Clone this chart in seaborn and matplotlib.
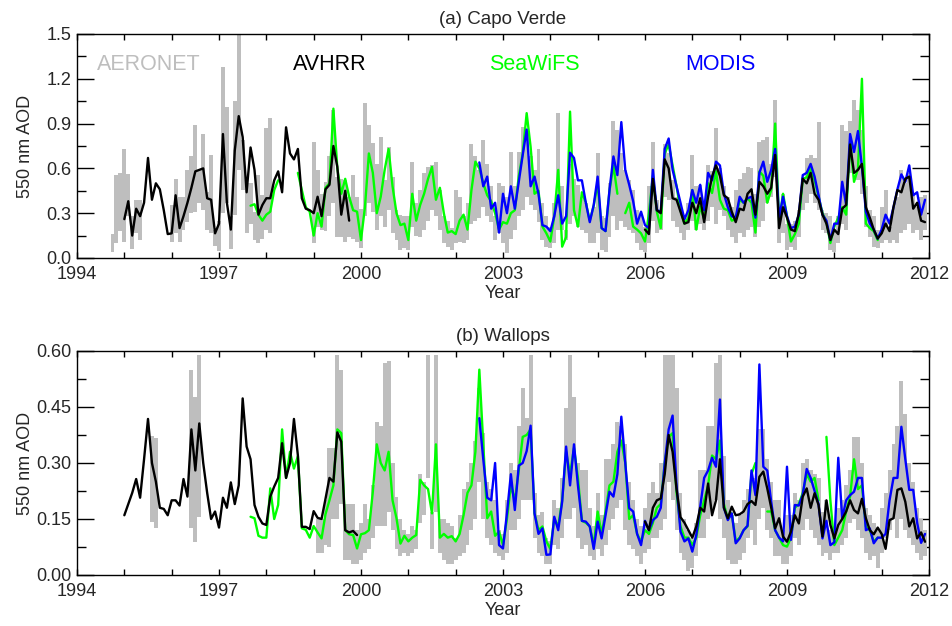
import numpy as np
import pandas as pd
import matplotlib
matplotlib.use('Agg')
import matplotlib.pyplot as plt
import seaborn as sns
from matplotlib.ticker import MultipleLocator, FormatStrFormatter

nan = np.nan

# ---- (a) Capo Verde, monthly 550 nm AOD ----
# AERONET monthly range (low / high), first month Oct 1994
cv_aeronet_start = (1994, 10)
cv_aeronet_lo = ([0.04, 0.10, 0.18, 0.11, 0.28, 0.06, 0.17, 0.12] + [nan] * 7 +
                 [0.11, 0.165, 0.11, 0.19, 0.24, 0.30, 0.31, 0.37, 0.32, 0.19, 0.165, 0.08, 0.05,
                  0.30, 0.37, 0.06, 0.29, 0.59, 0.455, 0.165, 0.23, 0.12, 0.10, 0.13, 0.19, 0.165] + [nan] * 10 +
                 [0.10, 0.21, 0.19, 0.18, 0.28, 0.37, 0.14, 0.14, 0.11, 0.14, 0.13, 0.11,
                  0.065, 0.28, 0.37, 0.31, 0.19, 0.28, 0.21, 0.32, 0.165, 0.12, 0.054, 0.065,
                  0.054, 0.21, 0.15, 0.14, 0.19, 0.25, 0.32, 0.28, 0.19, 0.10, 0.076, 0.054,
                  0.10, 0.11, 0.10, 0.12, 0.23, 0.25, 0.27, 0.34, 0.28, 0.24, 0.12, 0.165,
                  0.10, 0.03, 0.13, 0.19, 0.28, 0.32, 0.41, 0.355, 0.32, 0.24, 0.12, 0.076,
                  0.065, 0.10, 0.19, 0.19, 0.12, 0.23, 0.28, 0.21, 0.19, 0.165, 0.10, 0.10,
                  0.165, 0.054, 0.043, 0.14, 0.28, 0.19, 0.25, 0.21, 0.19, 0.165, 0.10, 0.054,
                  0.043, 0.10, 0.25, 0.165, 0.19, 0.41, 0.39, 0.25, 0.21, 0.165, 0.12, 0.19,
                  0.25, 0.19, 0.23, 0.19, 0.25, 0.34, 0.23, 0.32, 0.28, 0.19, 0.14, 0.10,
                  0.165, 0.14, 0.19, 0.21, 0.14, 0.21, 0.25, 0.37, 0.41, 0.545, 0.10, 0.165,
                  0.054, 0.076, 0.054, 0.14, 0.32, 0.37, 0.43, 0.37, 0.32, 0.19, 0.165, 0.054,
                  0.043, 0.10, 0.23, 0.19, 0.57, 0.59, 0.52, 0.43, 0.21, 0.14, 0.076, 0.065,
                  0.10, 0.12, 0.10, 0.12, 0.10, 0.165, 0.19, 0.23, 0.165, 0.19, 0.12, 0.19])
cv_aeronet_hi = ([0.16, 0.555, 0.57, 0.73, 0.56, 0.28, 0.39, 0.39] + [nan] * 7 +
                 [0.355, 0.53, 0.41, 0.41, 0.59, 0.68, 0.89, 0.59, 0.83, 0.44, 0.69, 0.19, 0.25,
                  1.28, 1.01, 0.28, 1.05, 1.49, 0.79, 0.50, 0.50, 0.31, 0.555, 0.42, 0.87, 0.94] + [nan] * 10 +
                 [0.78, 0.59, 0.43, 0.51, 0.68, 0.99, 0.545, 0.53, 0.52, 0.41, 0.555, 0.41,
                  0.33, 1.04, 0.89, 0.77, 0.63, 0.81, 0.52, 0.745, 0.545, 0.32, 0.29, 0.28,
                  0.28, 0.645, 0.37, 0.455, 0.57, 0.61, 0.62, 0.645, 0.455, 0.28, 0.25, 0.20,
                  0.455, 0.41, 0.28, 0.37, 0.76, 0.68, 0.59, 0.79, 0.63, 0.48, 0.28, 0.50,
                  0.48, 0.41, 0.71, 0.48, 0.71, 0.88, 0.83, 0.68, 0.59, 0.73, 0.37, 0.28,
                  0.21, 0.37, 0.97, 0.48, 0.19, 0.63, 0.53, 0.49, 0.41, 0.37, 0.28, 0.34,
                  0.70, 0.28, 0.27, 0.50, 0.92, 0.86, 0.70, 0.59, 0.52, 0.455, 0.32, 0.28,
                  0.21, 0.48, 0.78, 0.39, 0.32, 0.76, 0.70, 0.52, 0.41, 0.355, 0.29, 0.37,
                  0.69, 0.48, 0.49, 0.34, 0.62, 0.58, 0.87, 0.60, 0.48, 0.41, 0.34, 0.455,
                  0.53, 0.57, 0.61, 0.60, 0.43, 0.78, 0.79, 0.81, 0.63, 1.06, 0.34, 0.43,
                  0.23, 0.23, 0.25, 0.32, 0.545, 0.67, 0.69, 0.67, 0.91, 0.32, 0.30, 0.28,
                  0.176, 0.28, 0.89, 0.85, 0.92, 1.06, 0.99, 0.86, 0.48, 0.32, 0.28, 0.19,
                  0.34, 0.455, 0.21, 0.34, 0.41, 0.59, 0.50, 0.57, 0.43, 0.34, 0.41, 0.42])

cv_avhrr_start = (1995, 1)
cv_avhrr = ([0.26, 0.38, 0.15, 0.33, 0.28, 0.37, 0.67, 0.39, 0.50, 0.46, 0.32, 0.16,
             0.165, 0.42, 0.20, 0.28, 0.37, 0.47, 0.58, 0.59, 0.60, 0.40, 0.39, 0.165,
             0.23, 0.83, 0.37, 0.19, 0.72, 0.95, 0.81, 0.44, 0.74, 0.59, 0.29, 0.355,
             0.40, 0.40, 0.52, 0.58, 0.44, 0.875, 0.70, 0.66, 0.73, 0.40, 0.33, 0.32,
             0.30, 0.41, 0.28, 0.46, 0.49, 0.75, 0.61, 0.29, 0.45, 0.25] + [nan] * 74 +
            [0.19, 0.16, 0.53, 0.32, 0.30, 0.66, 0.60, 0.40, 0.39, 0.31, 0.23, 0.24,
             0.37, 0.30, 0.40, 0.24, 0.41, 0.545, 0.62, 0.55, 0.42, 0.40, 0.31, 0.24,
             0.33, 0.32, 0.43, 0.46, 0.29, 0.51, 0.48, 0.43, 0.47, 0.69, 0.20, 0.34,
             0.27, 0.19, 0.18, 0.30, 0.53, 0.50, 0.57, 0.43, 0.39, 0.29, 0.23, 0.12,
             0.19, 0.16, 0.33, 0.355, 0.76, 0.57, 0.59, 0.63, 0.34, 0.27, 0.19, 0.13,
             0.165, 0.23, 0.18, 0.34, 0.455, 0.44, 0.53, 0.545, 0.33, 0.37, 0.25, 0.24])

cv_seawifs_start = (1997, 9)
cv_seawifs = [0.35, 0.36, 0.29, 0.25, 0.29, 0.31, 0.455, 0.52, nan, nan,
              nan, nan, 0.57, 0.455, 0.34, 0.31, 0.15, 0.30, 0.21, 0.47,
              0.50, 1.0, 0.60, 0.43, 0.53, 0.41, 0.32, 0.31, 0.12, 0.34,
              0.70, 0.57, 0.30, 0.41, 0.59, 0.73, 0.48, 0.30, 0.22, 0.23,
              0.12, 0.43, 0.25, 0.355, 0.43, 0.53, 0.61, 0.39, 0.47, 0.30,
              0.17, 0.18, 0.16, 0.25, 0.29, 0.19, 0.455, 0.645, 0.60, 0.50,
              0.42, 0.38, 0.30, 0.19, 0.24, 0.23, 0.30, 0.32, 0.545, 0.70,
              0.97, 0.745, 0.43, 0.45, 0.21, 0.165, 0.11, 0.28, 0.59, 0.076,
              0.14, 0.98, 0.32, 0.21, 0.44, 0.37, 0.25, 0.35, 0.50, 0.20,
              0.18, 0.45, 0.62, 0.43, nan, 0.30, 0.37, 0.21, 0.19, 0.165,
              0.11, 0.30, 0.55, 0.31, 0.20, 0.70, 0.76, 0.62, 0.48, 0.32,
              0.23, 0.27, 0.455, 0.19, 0.345, 0.26, 0.50, 0.435, 0.58, 0.39,
              0.33, 0.32, 0.25, 0.26, 0.39, 0.37, 0.40, 0.37, 0.17, 0.58,
              0.55, 0.37, 0.455, 0.90, 0.25, 0.43, 0.28, 0.11, 0.16, 0.23,
              0.53, 0.54, 0.60, 0.52, 0.41, 0.30, 0.24, 0.10, 0.21, 0.27,
              0.34, 0.29, 0.78, 0.51, 0.60, 1.20, 0.23, 0.20, 0.18, 0.12]

cv_modis_start = (2002, 7)
cv_modis = [0.64, 0.48, 0.545, 0.33, 0.37, 0.17,
            0.43, 0.30, 0.48, 0.33, 0.51, 0.69, 0.86, 0.48, 0.545, 0.43, 0.22, 0.21,
            0.18, 0.28, 0.42, 0.23, 0.28, 0.705, 0.67, 0.52, 0.52, 0.37, 0.24, 0.355,
            0.545, 0.20, 0.18, 0.455, 0.68, 0.555, 0.91, 0.59, 0.49, 0.38, 0.23, 0.31,
            0.22, 0.20, 0.59, 0.32, 0.31, 0.73, 0.80, 0.59, 0.48, 0.37, 0.26, 0.32,
            0.455, 0.37, 0.49, 0.32, 0.57, 0.52, 0.645, 0.62, 0.43, 0.34, 0.28, 0.27,
            0.41, 0.37, 0.40, 0.41, 0.27, 0.57, 0.645, 0.51, 0.59, 0.73, 0.27, 0.41,
            0.28, 0.20, 0.21, 0.29, 0.555, 0.57, 0.63, 0.545, 0.42, 0.29, 0.25, 0.12,
            0.23, 0.23, 0.51, 0.355, 0.83, 0.71, 0.85, 0.61, 0.31, 0.23, 0.19, 0.13,
            0.19, 0.29, 0.23, 0.34, 0.46, 0.56, 0.51, 0.62, 0.42, 0.44, 0.29, 0.39]

# ---- (b) Wallops ----
wa_aeronet_start = (1995, 8)
wa_aeronet_lo = ([0.141, 0.125] + [nan] * 8 + [0.125, 0.089, 0.156] + [nan] * 29 +
                 [0.06, 0.06, 0.08, 0.075, 0.15, 0.15, 0.19, 0.04, 0.04, 0.03, 0.03, 0.04,
                  0.06, 0.07, 0.10, 0.13, 0.13, 0.13, 0.17, 0.12, 0.07, 0.05, 0.06, 0.05,
                  0.06, 0.07, 0.14, 0.16, 0.26, 0.07, 0.17, 0.06, 0.04, 0.03, 0.03, 0.04,
                  0.05, 0.06, 0.08, 0.12, 0.15, 0.25, 0.15, 0.10, 0.08, 0.06, 0.05, 0.04,
                  0.06, 0.12, 0.12, 0.15, 0.20, 0.20, 0.20, 0.10, 0.06, 0.05, 0.03, 0.03,
                  0.08, 0.07, 0.10, 0.15, 0.15, 0.18, 0.10, 0.07, 0.08, 0.05, 0.04, 0.07,
                  0.05, 0.08, 0.12, 0.15, 0.18, 0.20, 0.12, 0.08, 0.07, 0.05, 0.03, 0.06,
                  0.07, 0.10, 0.10, 0.12, 0.15, 0.25, 0.20, 0.12, 0.06, 0.04, 0.01, 0.02,
                  0.05, 0.10, 0.10, 0.15, 0.18, 0.20, 0.15, 0.10, 0.04, 0.03, 0.03, 0.04,
                  0.06, 0.10, 0.12, 0.08, 0.15, 0.18, 0.12, 0.10, 0.05, 0.05, 0.03, 0.03,
                  0.05, 0.10, 0.08, 0.12, 0.15, 0.12, 0.10, 0.08, 0.05, 0.06, 0.04, 0.06,
                  0.06, 0.08, 0.10, 0.14, 0.15, 0.12, 0.10, 0.06, 0.04, 0.05, 0.02, 0.06,
                  0.10, 0.12, 0.15, 0.10, 0.15, 0.12, 0.10, 0.08, 0.06, 0.04, 0.05])
wa_aeronet_hi = ([0.373, 0.368] + [nan] * 8 + [0.549, 0.478, 0.589] + [nan] * 29 +
                 [0.15, 0.15, 0.20, 0.34, 0.34, 0.589, 0.55, 0.19, 0.19, 0.19, 0.12, 0.14,
                  0.19, 0.15, 0.24, 0.41, 0.40, 0.567, 0.573, 0.30, 0.21, 0.15, 0.12, 0.11,
                  0.13, 0.12, 0.27, 0.25, 0.589, 0.17, 0.589, 0.15, 0.15, 0.14, 0.13, 0.10,
                  0.16, 0.23, 0.25, 0.30, 0.36, 0.50, 0.38, 0.25, 0.23, 0.20, 0.12, 0.11,
                  0.20, 0.30, 0.28, 0.40, 0.50, 0.42, 0.589, 0.22, 0.16, 0.17, 0.10, 0.09,
                  0.20, 0.18, 0.26, 0.448, 0.589, 0.478, 0.30, 0.28, 0.28, 0.18, 0.13, 0.22,
                  0.16, 0.31, 0.31, 0.35, 0.41, 0.40, 0.35, 0.25, 0.20, 0.15, 0.13, 0.18,
                  0.22, 0.25, 0.22, 0.30, 0.589, 0.589, 0.589, 0.50, 0.22, 0.15, 0.12, 0.10,
                  0.14, 0.28, 0.28, 0.40, 0.40, 0.567, 0.589, 0.32, 0.20, 0.16, 0.14, 0.16,
                  0.20, 0.23, 0.25, 0.26, 0.39, 0.39, 0.31, 0.25, 0.20, 0.20, 0.12, 0.16,
                  0.16, 0.22, 0.20, 0.30, 0.31, 0.28, 0.27, 0.26, 0.17, 0.20, 0.12, 0.13,
                  0.18, 0.20, 0.24, 0.28, 0.37, 0.37, 0.30, 0.18, 0.16, 0.14, 0.12, 0.18,
                  0.22, 0.28, 0.35, 0.40, 0.52, 0.43, 0.30, 0.25, 0.18, 0.15, 0.12])

wa_avhrr_start = (1995, 1)
wa_avhrr = ([0.16, 0.19, 0.22, 0.257, 0.207, 0.31, 0.418, 0.30, 0.25, 0.18, 0.177, 0.16,
             0.20, 0.20, 0.186, 0.257, 0.21, 0.39, 0.28, 0.406, 0.30, 0.22, 0.15, 0.17,
             0.127, 0.207, 0.18, 0.248, 0.19, 0.24, 0.473, 0.344, 0.31, 0.1875, 0.156, 0.138,
             0.134, 0.21, 0.237, 0.26, 0.353, 0.26, 0.30, 0.418, 0.32, 0.129, 0.129, 0.123,
             0.171, 0.153, 0.15, 0.204, 0.26, 0.25, 0.382, 0.357, 0.12, 0.114, 0.118, 0.107] + [nan] * 72 +
            [0.143, 0.12, 0.18, 0.20, 0.205, 0.27, 0.375, 0.33, 0.23, 0.155, 0.14, 0.12,
             0.10, 0.13, 0.18, 0.17, 0.245, 0.16, 0.20, 0.31, 0.18, 0.152, 0.183, 0.16,
             0.1625, 0.17, 0.19, 0.198, 0.1875, 0.263, 0.277, 0.232, 0.18, 0.125, 0.152, 0.103,
             0.089, 0.116, 0.16, 0.138, 0.21, 0.232, 0.18, 0.219, 0.1875, 0.103, 0.20, 0.134,
             0.098, 0.134, 0.15, 0.17, 0.20, 0.174, 0.165, 0.204, 0.152, 0.12, 0.109, 0.127,
             0.11, 0.07, 0.147, 0.152, 0.228, 0.232, 0.196, 0.13, 0.152, 0.098, 0.114, 0.089])

wa_seawifs_start = (1997, 9)
wa_seawifs = [0.156, 0.152, 0.105, 0.10, 0.10, 0.232, 0.15, 0.1875, 0.39, 0.26,
              0.33, 0.285, 0.318, 0.125, 0.121, 0.10, 0.131, 0.114, 0.098, 0.163,
              0.20, 0.24, 0.39, 0.38, 0.12, 0.109, 0.107, 0.071, 0.109, 0.112,
              0.12, 0.223, 0.35, 0.30, 0.28, 0.33, 0.20, 0.152, 0.084, 0.105,
              0.09, 0.10, 0.107, 0.255, 0.24, 0.23, 0.165, 0.35, 0.10, 0.11,
              0.10, 0.104, 0.09, 0.11, 0.16, 0.22, 0.24, 0.33, 0.55, 0.35,
              0.152, 0.17, 0.105, 0.116, 0.08, 0.15, 0.24, 0.20, 0.28, 0.37,
              0.375, 0.39, 0.165, 0.12, 0.13, 0.09, 0.07, 0.15, 0.13, 0.20,
              0.33, 0.27, 0.34, 0.26, 0.145, 0.14, 0.13, 0.08, 0.17, 0.11,
              0.17, 0.24, 0.25, 0.33, 0.36, 0.30, 0.15, 0.16, 0.11, 0.09,
              0.12, 0.11, 0.14, 0.18, 0.19, 0.30, 0.37, 0.38, 0.22, 0.13,
              0.10, 0.10, 0.08, 0.10, 0.16, 0.20, 0.24, 0.32, 0.31, 0.36,
              0.19, 0.15, 0.165, 0.09, 0.10, 0.12, 0.13, 0.27, 0.30, nan,
              nan, 0.17, 0.17, 0.12, 0.10, 0.08, 0.076, 0.10, 0.18, 0.19,
              0.22, 0.27, 0.25, 0.26, 0.20, nan, 0.37, 0.20, 0.08, 0.10,
              0.12, 0.17, 0.21, 0.31, 0.23, 0.24, 0.13, 0.12, 0.09, 0.10]

wa_modis_start = (2002, 7)
wa_modis = [0.42, 0.31, 0.207, 0.20, 0.30, 0.08,
            0.071, 0.165, 0.27, 0.174, 0.293, 0.30, 0.332, 0.40, 0.165, 0.11, 0.125, 0.054,
            0.055, 0.156, 0.12, 0.196, 0.344, 0.24, 0.35, 0.24, 0.145, 0.143, 0.13, 0.07,
            0.143, 0.098, 0.16, 0.223, 0.21, 0.27, 0.424, 0.30, 0.179, 0.17, 0.11, 0.08,
            0.145, 0.12, 0.147, 0.156, 0.18, 0.30, 0.39, 0.427, 0.24, 0.116, 0.09, 0.098,
            0.0625, 0.107, 0.183, 0.26, 0.28, 0.314, 0.29, 0.47, 0.18, 0.147, 0.165, 0.085,
            0.098, 0.12, 0.132, 0.28, 0.214, 0.564, 0.29, 0.28, 0.196, 0.12, 0.10, 0.09,
            0.29, 0.094, 0.1875, 0.186, 0.215, 0.284, 0.26, 0.225, 0.19, 0.098, 0.145, 0.08,
            0.0875, 0.314, 0.152, 0.20, 0.214, 0.223, 0.26, 0.26, 0.12, 0.125, 0.085, 0.10,
            0.10, 0.11, 0.20, 0.26, 0.26, 0.397, 0.31, 0.228, 0.228, 0.14, 0.086, 0.11]

sensor_names = ['AERONET', 'AVHRR', 'SeaWiFS', 'MODIS']
sensor_colors = ['#bebebe', 'black', '#00ff00', '#0000ff']
year_ticks = [1994, 1997, 2000, 2003, 2006, 2009, 2012]


def decimal_years(start, n):
    y, m = start
    return y + (m - 1 + np.arange(n)) / 12.0


def draw_bars(ax, start, lo, hi):
    lo = np.asarray(lo, float)
    hi = np.asarray(hi, float)
    x = decimal_years(start, len(lo))
    ok = ~np.isnan(lo)
    ax.bar(x[ok], hi[ok] - lo[ok], bottom=lo[ok], width=1 / 12.0,
           color=sensor_colors[0], linewidth=0, zorder=1)


def draw_line(ax, start, vals, color, z):
    v = np.asarray(vals, float)
    df = pd.DataFrame({'year': decimal_years(start, len(v)), 'aod': v})
    # break the line where months are missing
    df['seg'] = df['aod'].isna().cumsum()
    df = df.dropna()
    sns.lineplot(data=df, x='year', y='aod', units='seg', estimator=None, sort=False,
                 color=color, linewidth=1.7, ax=ax, legend=False, zorder=z)


def style_axes(ax, ymax, major, minor, fmt, title):
    ax.set_xlim(1994, 2012)
    ax.set_ylim(0, ymax)
    ax.set_xticks(year_ticks)
    ax.xaxis.set_minor_locator(MultipleLocator(1))
    ax.yaxis.set_major_locator(MultipleLocator(major))
    ax.yaxis.set_minor_locator(MultipleLocator(minor))
    ax.yaxis.set_major_formatter(FormatStrFormatter(fmt))
    ax.tick_params(which='both', direction='in', top=True, right=True,
                   color='black', width=1.0, labelsize=13)
    ax.tick_params(axis='y', which='major', length=12.5, pad=4)
    ax.tick_params(axis='y', which='minor', length=6.5)
    ax.tick_params(axis='x', which='major', length=4, pad=6)
    ax.tick_params(axis='x', which='minor', length=4)
    for s in ax.spines.values():
        s.set_linewidth(1.0)
        s.set_color('black')
    ax.set_xlabel('Year', fontsize=13, labelpad=1)
    ax.set_ylabel('550 nm AOD', fontsize=13)
    ax.yaxis.set_label_coords(-0.051, 0.5)
    ax.set_title(title, fontsize=13.5, pad=7)


sns.set_theme(style='ticks')
plt.rcParams['font.family'] = ['Liberation Sans', 'DejaVu Sans']

fig = plt.figure(figsize=(9.53, 6.26), dpi=100)
ax_a = fig.add_axes([0.0808, 0.5879, 0.894, 0.3578])
ax_b = fig.add_axes([0.0808, 0.0815, 0.894, 0.3578])

# (a) Capo Verde
draw_bars(ax_a, cv_aeronet_start, cv_aeronet_lo, cv_aeronet_hi)
draw_line(ax_a, cv_seawifs_start, cv_seawifs, sensor_colors[2], 2)
draw_line(ax_a, cv_modis_start, cv_modis, sensor_colors[3], 3)
draw_line(ax_a, cv_avhrr_start, cv_avhrr, sensor_colors[1], 4)
style_axes(ax_a, 1.5, 0.3, 0.15, '%.1f', '(a) Capo Verde')

# sensor names written in their line colours
for name, color, xpos in zip(sensor_names, sensor_colors, [0.024, 0.254, 0.484, 0.714]):
    ax_a.text(xpos, 0.862, name, transform=ax_a.transAxes, color=color,
              fontsize=15.5, va='center', ha='left')

# (b) Wallops
draw_bars(ax_b, wa_aeronet_start, wa_aeronet_lo, wa_aeronet_hi)
draw_line(ax_b, wa_seawifs_start, wa_seawifs, sensor_colors[2], 2)
draw_line(ax_b, wa_modis_start, wa_modis, sensor_colors[3], 3)
draw_line(ax_b, wa_avhrr_start, wa_avhrr, sensor_colors[1], 4)
style_axes(ax_b, 0.60, 0.15, 0.075, '%.2f', '(b) Wallops')

fig.savefig('out.png', dpi=100)
